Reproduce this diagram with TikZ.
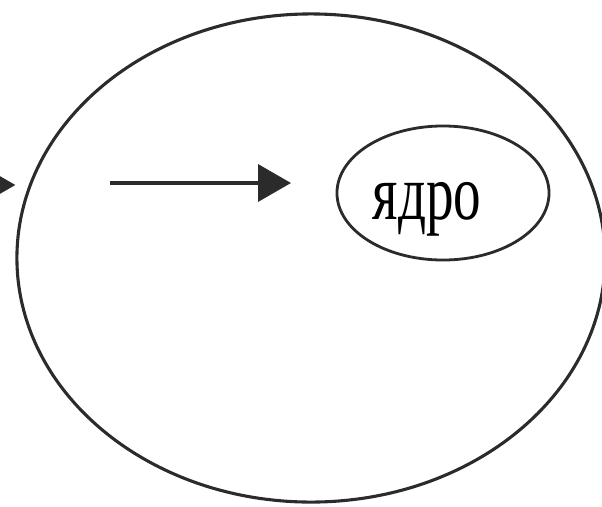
\documentclass[tikz,border=0pt]{standalone}
\usepackage{fontspec}
\setmainfont{Liberation Serif}
\usetikzlibrary{shapes.geometric,arrows.meta,positioning}
\definecolor{InkGray}{HTML}{2B2B2B}
\tikzset{
    % Cell outline
    cellnode/.style={
        ellipse,
        draw=InkGray,
        line width=2.2pt,
        inner sep=0pt,
        minimum width=14.7cm,
        minimum height=12.2cm
    },
    % Nucleus
    nucleusnode/.style={
        ellipse,
        draw=InkGray,
        line width=2pt,
        inner sep=0pt,
        minimum width=5.3cm,
        minimum height=3.35cm,
        text height=1.3cm,
        text depth=0pt,
        font=\fontsize{56}{56}\selectfont
    },
    % Arrow style
    myarrow/.style={
        -{Triangle[length=0.82cm,width=0.92cm]},
        line width=2.6pt,
        draw=InkGray
    }
}
\begin{document}
\begin{tikzpicture}[x=0.025cm, y=-0.025cm]
                \useasboundingbox (0,0) rectangle (602,506);
                \clip (0,0) rectangle (602,506);

                % Cell and nucleus
                \node[cellnode] (cell) at (311,258) {};
                \node[nucleusnode] (nucleus) at (443,193) {\scalebox{0.7}[1]{ядро}\hspace*{0.8cm}};

                % Arrow ends
                \coordinate (src) at (-60,185);
                \coordinate (tail) at (110,183);
                \coordinate (head) at (291,183);

                % Arrows
                \draw[myarrow] (src) -- (src -| cell.west);
                \draw[myarrow] (tail) -- (head);
            \end{tikzpicture}
\end{document}
